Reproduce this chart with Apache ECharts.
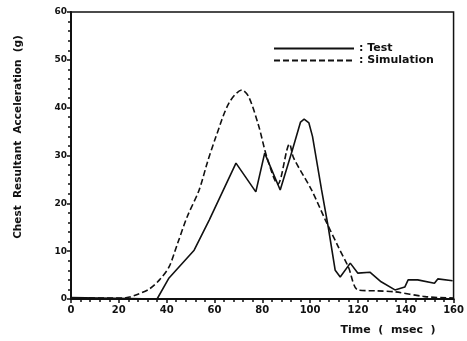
<!DOCTYPE html>
<html>
<head>
<meta charset="utf-8">
<script src="https://cdn.jsdelivr.net/npm/echarts@6/dist/echarts.min.js"></script>
<style>
  html, body { margin: 0; padding: 0; background: #fff; }
  #chart { width: 467px; height: 341px; }
</style>
</head>
<body>
<div id="chart"></div>
<script>
// Test (solid) — time in msec, acceleration in g
const testTime = [0, 36, 41, 51.5, 57.8, 69, 77.3, 81, 87.5, 92.5, 96, 97.5, 99.5, 101, 104.8, 107.6, 110.5, 112.6, 116.8, 120, 125, 129.7, 135.5, 139.6, 141, 145, 152, 153.4, 159.6];
const testAccel = [0.3, 0, 4.4, 10.2, 16.5, 28.4, 22.4, 30.5, 22.8, 31, 37, 37.6, 36.8, 34, 22.8, 15, 6, 4.6, 7.5, 5.4, 5.6, 3.6, 1.9, 2.5, 4, 4, 3.3, 4.2, 3.8];

// Simulation (dashed)
const simTime = [0, 22, 24.5, 28, 32.8, 37, 41, 44.5, 48.6, 53.6, 57, 60.6, 66.1, 71.5, 74.4, 78.6, 81.9, 86.5, 91.4, 93.1, 100.6, 106.4, 111.8, 116, 120, 128, 135.5, 148, 160];
const simAccel = [0.2, 0.2, 0.4, 1.0, 2.1, 4, 6.7, 11.5, 17.2, 22.8, 28.5, 33.9, 41, 43.7, 42.2, 36, 29.7, 24, 32.4, 29.5, 22.8, 16.5, 10.9, 6.7, 1.9, 1.7, 1.5, 0.5, 0.2];

const xTicks = [0, 20, 40, 60, 80, 100, 120, 140, 160];
const yTicks = [0, 10, 20, 30, 40, 50, 60];

const zip = (xs, ys) => xs.map((x, i) => [x, ys[i]]);
const font = "DejaVu Sans";

const chart = echarts.init(document.getElementById("chart"));
chart.setOption({
  animation: false,
  color: ["#111", "#111"],
  grid: {
    left: 71, right: 11, top: 12, bottom: 42,
    show: true, borderColor: "#111", borderWidth: 1.5
  },
  legend: {
    orient: "vertical",
    left: 268, top: 38,
    itemWidth: 80, itemHeight: 10, itemGap: 1,
    itemStyle: { opacity: 0 },
    formatter: ": {name}",
    textStyle: { fontFamily: font, fontWeight: "bold", fontSize: 11, color: "#111" },
    data: ["Test", "Simulation"]
  },
  xAxis: {
    type: "value",
    min: xTicks[0], max: xTicks[xTicks.length - 1], interval: 20,
    axisLine: { lineStyle: { color: "#111", width: 2 } },
    axisTick: { length: 4, lineStyle: { color: "#111", width: 1.5 } },
    minorTick: { show: true, splitNumber: 5, length: 3, lineStyle: { color: "#111", width: 1.5 } },
    splitLine: { show: false },
    axisLabel: { fontFamily: font, fontWeight: "bold", fontSize: 10, color: "#111", margin: 6 }
  },
  yAxis: {
    type: "value",
    min: yTicks[0], max: yTicks[yTicks.length - 1], interval: 10,
    axisLine: { show: true, lineStyle: { color: "#111", width: 2 } },
    axisTick: { show: true, length: 4, lineStyle: { color: "#111", width: 1.5 } },
    minorTick: { show: true, splitNumber: 5, length: 3, lineStyle: { color: "#111", width: 1.5 } },
    splitLine: { show: false },
    axisLabel: { fontFamily: font, fontWeight: "bold", fontSize: 9, color: "#111", margin: 4 }
  },
  graphic: [
    {
      type: "text", x: 18, y: 137, rotation: Math.PI / 2,
      style: {
        text: "Chest  Resultant  Acceleration  (g)",
        fontFamily: font, fontWeight: "bold", fontSize: 10.5, fill: "#111",
        textAlign: "center", textVerticalAlign: "middle"
      }
    },
    {
      type: "text", x: 388, y: 330,
      style: {
        text: "Time  (  msec  )",
        fontFamily: font, fontWeight: "bold", fontSize: 11, fill: "#111",
        textAlign: "center", textVerticalAlign: "middle"
      }
    }
  ],
  series: [
    {
      name: "Test",
      type: "line",
      symbol: "none",
      itemStyle: { color: "#111" },
      lineStyle: { color: "#111", width: 1.6 },
      data: zip(testTime, testAccel)
    },
    {
      name: "Simulation",
      type: "line",
      symbol: "none",
      smooth: 0.3,
      itemStyle: { color: "#111" },
      lineStyle: { color: "#111", width: 1.6, type: [6, 3] },
      data: zip(simTime, simAccel)
    }
  ]
});
</script>
</body>
</html>
